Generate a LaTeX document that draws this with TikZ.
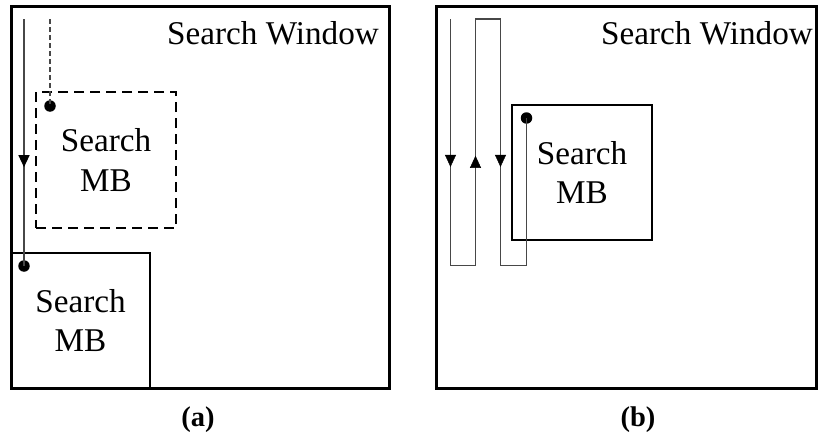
\documentclass[tikz,border=0pt]{standalone}
\usepackage{fontspec}
\setmainfont{Liberation Serif}
\usetikzlibrary{arrows.meta,decorations.markings}
\begin{document}
\begin{tikzpicture}[x=1pt,y=-1pt,
  window/.style={draw, line width=3pt, inner sep=0pt},
  mbbox/.style={draw, line width=2.7pt, inner sep=0pt, align=center,
    font=\fontsize{33.2}{39.5}\selectfont},
  dashbox/.style={mbbox, dash pattern=on 10pt off 6pt},
  trace/.style={draw=black!72, line width=1.3pt, line join=miter},
  dashtrace/.style={trace, dash pattern=on 5pt off 3pt},
  blob/.style={circle, fill=black, inner sep=0pt, minimum size=11.5pt},
  wtitle/.style={anchor=base west, inner sep=0pt, font=\fontsize{33.2}{39.5}\selectfont},
  caption/.style={anchor=base, inner sep=0pt, font=\fontsize{28.5}{33}\selectfont\bfseries},
  arrowat/.style={postaction={decorate}, decoration={markings,
    mark=at position #1 with {\arrow[black]{Triangle[width=11pt,length=12pt]}}}}]
  \useasboundingbox (0,0) rectangle (820,439);

  % ---- panel (a) ----
  \node[window, minimum width=378pt, minimum height=382pt] (winA) at (200,197) {};
  \node[wtitle] (titleA) at (167,44) {Search Window};
  \node[dashbox, minimum width=140pt, minimum height=136pt] (mbA1) at (106,160) {Search\\MB};
  \node[mbbox, minimum width=139pt, minimum height=135pt] (mbA2) at (80.5,320.5) {Search\\MB};
  \node[blob] (dotA1) at (50,106) {};
  \node[blob] (dotA2) at (24,266) {};
  \coordinate (startA1) at (50,19);
  \coordinate (startA2) at (24,19);
  \draw[dashtrace] (startA1) -- (dotA1.center);
  \draw[trace, arrowat=0.6] (startA2) -- (dotA2.center);
  \node[caption] (capA) at (198,426) {(a)};

  % ---- panel (b) ----
  \node[window, minimum width=380pt, minimum height=382pt] (winB) at (626,197) {};
  \node[wtitle] (titleB) at (601,44) {Search Window};
  \node[mbbox, minimum width=140pt, minimum height=135pt] (mbB) at (582,172.5) {Search\\MB};
  \node[blob] (dotB) at (526.5,118) {};
  \coordinate (r0) at (450.5,19);
  \coordinate (r1) at (450.5,265.5);
  \coordinate (r2) at (475.5,265.5);
  \coordinate (r3) at (475.5,19);
  \coordinate (r4) at (500.5,19);
  \coordinate (r5) at (500.5,265.5);
  \coordinate (r6) at (526.5,265.5);
  \draw[trace] (r0) -- (r1) -- (r2) -- (r3) -- (r4) -- (r5) -- (r6) -- (dotB.center);
  \path[arrowat=0.6] (r0) -- (r1);
  \path[arrowat=0.445] (r2) -- (r3);
  \path[arrowat=0.6] (r4) -- (r5);
  \node[caption] (capB) at (638,426) {(b)};
\end{tikzpicture}
\end{document}
